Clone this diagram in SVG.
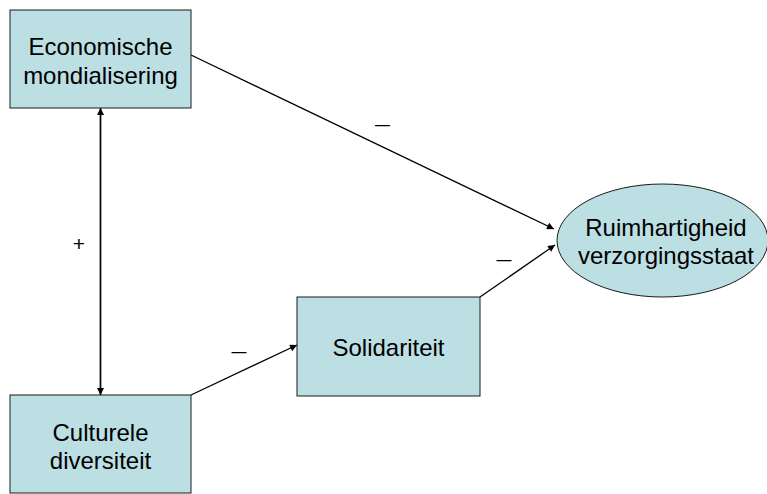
<svg xmlns="http://www.w3.org/2000/svg" width="767" height="494" viewBox="0 0 767 494">
<style>
.box{fill:#BBDFE3;stroke:#1a1a1a;stroke-width:1}
.t{font-family:"Liberation Sans",Arial,sans-serif;font-size:24px;fill:#000;text-anchor:middle}
.lbl{font-family:"Liberation Sans",Arial,sans-serif;font-size:21px;fill:#000;text-anchor:middle}
.dash{font-family:"Liberation Sans",Arial,sans-serif;font-size:21px;fill:#000;text-anchor:middle}
.c{stroke:#000;stroke-width:1.3;fill:none}
</style>
<defs>
<marker id="ah" viewBox="0 0 10 10" refX="10" refY="5" markerWidth="9" markerHeight="7" markerUnits="userSpaceOnUse" orient="auto-start-reverse">
<path d="M0,0 L10,5 L0,10 z" fill="#000"/>
</marker>
</defs>
<rect width="767" height="494" fill="#fff"/>
<g id="connectors">
<line class="c" x1="100.5" y1="108" x2="100.5" y2="395" marker-start="url(#ah)" marker-end="url(#ah)" style="stroke-width:1.7"/>
<line class="c" x1="191" y1="55" x2="554" y2="229" marker-end="url(#ah)"/>
<line class="c" x1="480" y1="297" x2="555" y2="245" marker-end="url(#ah)"/>
<line class="c" x1="191" y1="395" x2="297" y2="345" marker-end="url(#ah)"/>
<text class="dash" x="382.5" y="131" textLength="15" lengthAdjust="spacingAndGlyphs">–</text>
<text class="lbl" x="79" y="251">+</text>
<text class="dash" x="504" y="266" textLength="15" lengthAdjust="spacingAndGlyphs">–</text>
<text class="dash" x="239" y="358" textLength="15" lengthAdjust="spacingAndGlyphs">–</text>
</g>
<g id="economische">
<rect class="box" x="10" y="10" width="181" height="98"/>
<text class="t" x="100.5" y="55">Economische</text>
<text class="t" x="100.5" y="84">mondialisering</text>
</g>
<g id="culturele">
<rect class="box" x="10" y="395" width="181" height="98"/>
<text class="t" x="100.5" y="441">Culturele</text>
<text class="t" x="100.5" y="469">diversiteit</text>
</g>
<g id="solidariteit">
<rect class="box" x="297" y="297" width="183" height="99"/>
<text class="t" x="388.5" y="356">Solidariteit</text>
</g>
<g id="ruimhartigheid">
<ellipse class="box" cx="662.5" cy="240.5" rx="105.5" ry="56.5"/>
<text class="t" x="666" y="236">Ruimhartigheid</text>
<text class="t" x="666" y="264">verzorgingsstaat</text>
</g>
</svg>
